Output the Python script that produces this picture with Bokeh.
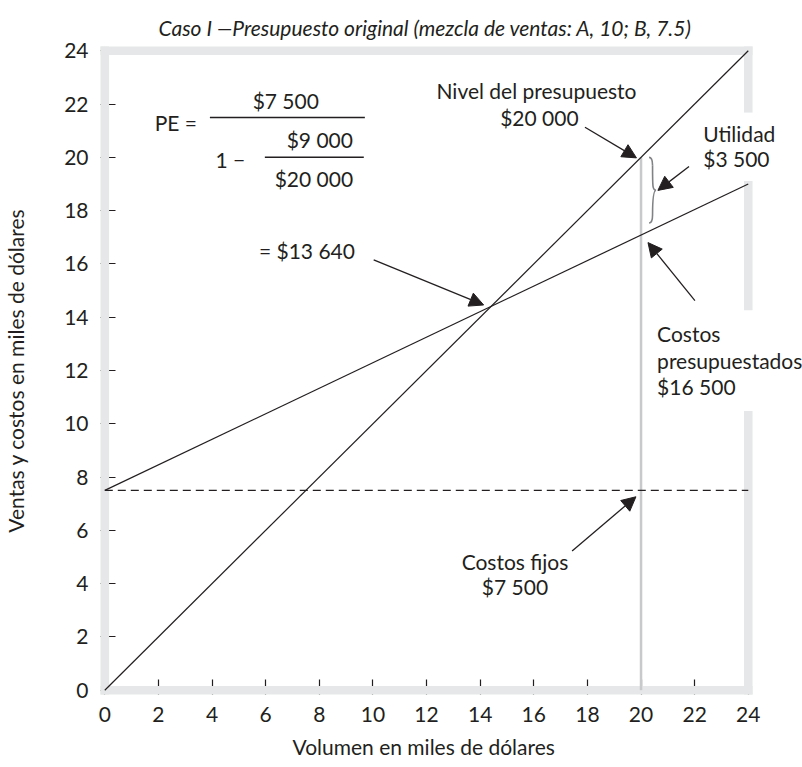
import numpy as np
from bokeh.plotting import figure
from bokeh.models import Range1d, Label, Arrow, NormalHead, FixedTicker, Title
from bokeh.embed import file_html
from bokeh.resources import INLINE

# ---- data (thousands of dollars) ----
volume = [0, 24]
sales = [0, 24]
total_cost = [7.5, 19.0]
fixed_cost = 7.5
budget_volume = 20
budget_sales = 20
ticks = list(range(0, 25, 2))
tick_labels = [str(t) for t in ticks]

budget_cost = float(np.interp(budget_volume, volume, total_cost))

FONT = "Lato"
INK = "#231f20"
FRAME = "#e6e7e8"
FS = "21px"

p = figure(frame_width=703, frame_height=648,
           x_range=Range1d(-0.16, 26.06), y_range=Range1d(-0.16, 24.16),
           output_backend="svg", toolbar_location=None,
           min_border_left=99, min_border_top=46, min_border_right=0, min_border_bottom=73,
           outline_line_color=None, background_fill_color="white", border_fill_color="white")
p.xgrid.visible = False
p.ygrid.visible = False

p.title.text = "Caso I \u2014Presupuesto original (mezcla de ventas: A, 10; B, 7.5)"
p.title.text_font = FONT
p.title.text_font_size = "21px"
p.title.text_font_style = "italic"
p.title.text_color = INK
p.title.align = "left"
p.title.offset = 58
p.title.vertical_align = "top"
p.title.standoff = 10

for ax in (p.xaxis, p.yaxis):
    ax.ticker = FixedTicker(ticks=ticks)
    ax.major_label_overrides = {t: l for t, l in zip(ticks, tick_labels)}
    ax.axis_line_color = None
    ax.major_tick_in = 15
    ax.major_tick_out = 0
    ax.major_tick_line_color = INK
    ax.major_tick_line_width = 1.2
    ax.minor_tick_line_color = None
    ax.major_label_text_font = FONT
    ax.major_label_text_font_size = FS
    ax.major_label_text_color = INK
    ax.axis_label_text_font = FONT
    ax.axis_label_text_font_size = FS
    ax.axis_label_text_font_style = "normal"
    ax.axis_label_text_color = INK

p.yaxis.axis_label = "Ventas y costos en miles de dólares"
p.xaxis.major_label_standoff = 12
p.yaxis.major_label_standoff = 12
p.yaxis.axis_label_standoff = 33

p.add_layout(Title(text="Volumen en miles de dólares", text_font=FONT, text_font_size=FS,
                   text_font_style="normal", text_color=INK, align="left", offset=192,
                   standoff=14), "below")

# frame bars (light grey, with gaps on the right for labels)
p.quad(left=[-0.16, -0.16, -0.16, 23.84, 23.84, 23.84],
       right=[0.16, 24.16, 24.16, 24.16, 24.16, 24.16],
       bottom=[-0.16, -0.16, 23.84, 21.68, 14.26, -0.16],
       top=[24.16, 0.16, 24.16, 24.16, 19.11, 10.48],
       fill_color=FRAME, line_color=None, level="overlay")

# budget level vertical
p.line([budget_volume, budget_volume], [0, budget_sales], line_color="#c8c9cb", line_width=2.5, level="overlay")
# fixed cost dashed
p.line([volume[0], volume[-1]], [fixed_cost, fixed_cost], line_color=INK, line_width=1.2,
       line_dash="8 5", level="overlay")
# sales & total cost
p.line(volume, sales, line_color=INK, line_width=1.2, level="overlay")
p.line(volume, total_cost, line_color=INK, line_width=1.2, level="overlay")

# brace for profit
bx = budget_volume + 0.3
top = budget_sales
bot = budget_cost + 0.45
mid = (top + bot) / 2
w = 0.13
p.bezier(x0=[bx, bx + w, bx + 2 * w, bx + w],
         y0=[top, top - 0.3, mid, bot + 0.3],
         x1=[bx + w, bx + 2 * w, bx + w, bx],
         y1=[top - 0.3, mid, bot + 0.3, bot],
         cx0=[bx + w, bx + w, bx + w, bx + w], cy0=[top, mid + 0.1, mid, bot + 0.2],
         cx1=[bx + w, bx + w, bx + w, bx + w], cy1=[top - 0.2, mid, bot + 0.4, bot],
         line_color="#808285", line_width=1.6, level="overlay")

# fraction bars
p.segment(x0=[3.92, 5.97], y0=[21.5, 20.0], x1=[9.70, 9.66], y1=[21.5, 20.0],
          line_color=INK, line_width=1.5)


def lab(x, y, t, align="center"):
    p.add_layout(Label(x=x, y=y, text=t, text_font=FONT, text_font_size=FS,
                       text_color=INK, text_align=align, text_baseline="middle"))


lab(2.65, 21.3, "PE =")
lab(6.75, 22.14, "$7 500")
lab(8.02, 20.66, "$9 000")
lab(4.78, 19.92, "1  \u2212")
lab(7.80, 19.2, "$20 000")
lab(7.54, 16.5, "= $13 640")
lab(16.1, 22.5, "Nivel del presupuesto")
lab(16.21, 21.5, "$20 000")
lab(22.32, 20.9, "Utilidad", align="left")
lab(22.32, 19.96, "$3 500", align="left")
lab(20.6, 13.38, "Costos", align="left")
lab(20.6, 12.37, "presupuestados", align="left")
lab(20.6, 11.4, "$16 500", align="left")
lab(15.3, 4.85, "Costos fijos")
lab(15.3, 3.9, "$7 500")


def arrow(x0, y0, x1, y1):
    p.add_layout(Arrow(end=NormalHead(size=14, fill_color=INK, line_color=INK, line_width=1),
                       x_start=x0, y_start=y0, x_end=x1, y_end=y1,
                       line_color=INK, line_width=1.3))


arrow(17.91, 21.13, 19.83, 19.98)
arrow(21.79, 19.66, 20.63, 18.76)
arrow(22.01, 14.62, 20.26, 16.8)
arrow(17.43, 5.23, 19.81, 7.26)
arrow(10.03, 16.15, 14.13, 14.46)

open("out.html", "w").write(file_html(p, INLINE))
